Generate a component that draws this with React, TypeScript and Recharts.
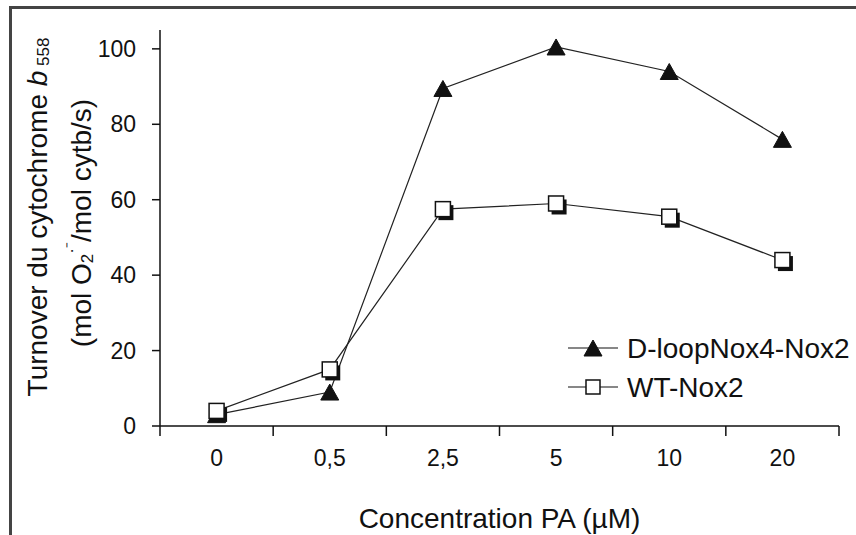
import React from 'react';
import { LineChart, Line, XAxis, YAxis } from 'recharts';

const categories = ['0', '0,5', '2,5', '5', '10', '20'];
const dloopValues = [3, 9, 89.5, 100.5, 94, 76];
const wtValues = [4, 15, 57.5, 59, 55.5, 44];
const yTicks = [0, 20, 40, 60, 80, 100];
const seriesNames = ['D-loopNox4-Nox2', 'WT-Nox2'];

const data = categories.map((c, i) => ({
  x: i + 0.5,
  label: c,
  dloop: dloopValues[i],
  wt: wtValues[i],
}));

const W = 856;
const H = 535;
const MARGIN = { top: 30, right: 17, left: 100, bottom: 79 };
const Y_AXIS_W = 60;
const X_AXIS_H = 30;
const PLOT_W = W - MARGIN.left - Y_AXIS_W - MARGIN.right;
const BAND = PLOT_W / categories.length;
const FONT = '"Liberation Sans", Arial, sans-serif';
const INK = '#111';
const TICK_FS = 23;
const TITLE_FS = 28;

const Triangle = (props: any) => {
  const { cx, cy } = props;
  if (cx == null || cy == null) return null;
  const w = 9, h = 8;
  return <path d={`M${cx},${cy - h} L${cx + w},${cy + h} L${cx - w},${cy + h} Z`} fill={INK} stroke={INK} strokeWidth={1} />;
};

const Square = (props: any) => {
  const { cx, cy } = props;
  if (cx == null || cy == null) return null;
  const s = 7.5;
  return (
    <g>
      <rect x={cx - s + 3} y={cy - s + 3.5} width={2 * s} height={2 * s} fill={INK} />
      <rect x={cx - s} y={cy - s} width={2 * s} height={2 * s} fill="#fff" stroke={INK} strokeWidth={1.5} />
    </g>
  );
};

const XTick = (props: any) => {
  const { x, y, payload } = props;
  const idx = Math.round(payload.value);
  if (idx >= categories.length) return null;
  return (
    <text x={x + BAND / 2} y={y + 28} textAnchor="middle" fontFamily={FONT} fontSize={TICK_FS} fill={INK}>
      {categories[idx]}
    </text>
  );
};

const YLabel = () => (
  <g fontFamily={FONT} fontSize={TITLE_FS} fill={INK}>
    <text transform="translate(37,217) rotate(-90)" textAnchor="middle" dominantBaseline="central">
      Turnover du cytochrome <tspan fontStyle="italic">b</tspan>
      <tspan fontSize={17} dy={6}> 558</tspan>
    </text>
    <text transform="translate(81,223) rotate(-90)" textAnchor="middle" dominantBaseline="central">
      (mol O<tspan fontSize={17} dy={6}>2</tspan>
      <tspan fontSize={17} dy={-16}>·⁻</tspan>
      <tspan dy={10}>/mol cytb/s)</tspan>
    </text>
  </g>
);

const LegendOverlay = () => (
  <svg width={300} height={80} style={{ position: 'absolute', left: 568, top: 328, overflow: 'visible' }}>
    <g fontFamily={FONT} fontSize={TITLE_FS} fill={INK}>
      <line x1={0} x2={50} y1={20} y2={20} stroke={INK} strokeWidth={1.2} />
      <Triangle cx={25} cy={20} />
      <text x={59} y={20} dominantBaseline="central">{seriesNames[0]}</text>
      <line x1={0} x2={50} y1={59} y2={59} stroke={INK} strokeWidth={1.2} />
      <rect x={18} y={52} width={14} height={14} fill="#fff" stroke={INK} strokeWidth={1.5} />
      <text x={59} y={59} dominantBaseline="central">{seriesNames[1]}</text>
    </g>
  </svg>
);

export default function App() {
  return (
    <div style={{ position: 'absolute', left: 0, top: 0, width: W, height: H, background: '#fff' }}>
      <div
        style={{
          position: 'absolute',
          left: 9,
          top: 6,
          width: W - 9,
          height: H - 6,
          borderLeft: '3px solid #444',
          borderTop: '3px solid #444',
          boxSizing: 'border-box',
        }}
      />
      <LineChart width={W} height={H} data={data} margin={MARGIN} style={{ position: 'absolute', left: 0, top: 0 }}>
        <XAxis
          dataKey="x"
          type="number"
          domain={[0, categories.length]}
          ticks={[0, 1, 2, 3, 4, 5, 6]}
          interval={0}
          height={X_AXIS_H}
          tickSize={10}
          stroke={INK}
          tickLine={{ stroke: INK, strokeWidth: 1.5 }}
          axisLine={{ stroke: INK, strokeWidth: 1.5 }}
          tick={<XTick />}
          label={{
            value: 'Concentration PA (µM)',
            position: 'insideBottom',
            offset: -72,
            style: { fontFamily: FONT, fontSize: TITLE_FS, fill: INK },
          }}
        />
        <YAxis
          type="number"
          domain={[0, 105]}
          ticks={yTicks}
          width={Y_AXIS_W}
          tickSize={8}
          tickMargin={16}
          stroke={INK}
          tickLine={{ stroke: INK, strokeWidth: 1.5 }}
          axisLine={{ stroke: INK, strokeWidth: 1.5 }}
          tick={{ fontFamily: FONT, fontSize: TICK_FS, fill: INK }}
          label={<YLabel />}
        />
        <Line
          dataKey="dloop"
          name={seriesNames[0]}
          stroke="#222"
          strokeWidth={1.2}
          dot={<Triangle />}
          isAnimationActive={false}
        />
        <Line
          dataKey="wt"
          name={seriesNames[1]}
          stroke="#222"
          strokeWidth={1.2}
          dot={<Square />}
          isAnimationActive={false}
        />
      </LineChart>
      <LegendOverlay />
    </div>
  );
}
